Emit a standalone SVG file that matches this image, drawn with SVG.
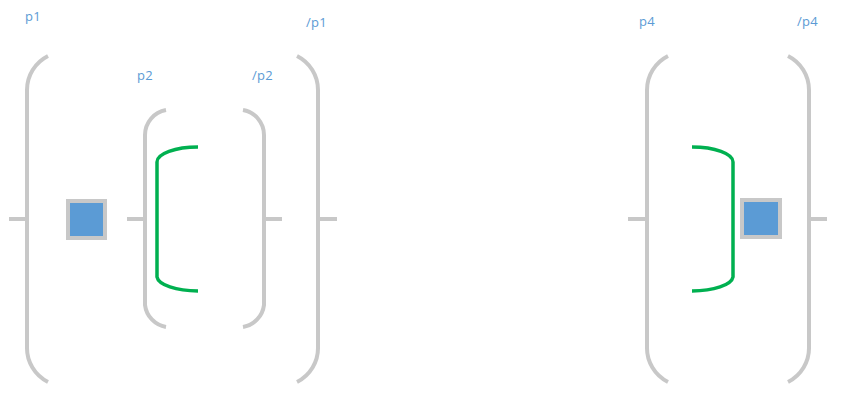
<svg xmlns="http://www.w3.org/2000/svg" width="842" height="406" viewBox="0 0 842 406">
<style>
.br{fill:none;stroke:#c8c8c8;stroke-width:4;stroke-linecap:butt}
.gr{fill:none;stroke:#00b050;stroke-width:3.5}
.bx{fill:#5b9bd5;stroke:#c8c8c8;stroke-width:4}
.lb{font-family:"Open Sans","Liberation Sans",sans-serif;font-size:13px;fill:#5b9bd5;letter-spacing:0.3px}
</style>
<rect width="842" height="406" fill="#ffffff"/>
<g id="connectors">
<line class="br" x1="9" y1="219" x2="27" y2="219"/>
<line class="br" x1="127" y1="219" x2="145" y2="219"/>
<line class="br" x1="264" y1="219" x2="282" y2="219"/>
<line class="br" x1="318" y1="219" x2="337" y2="219"/>
<line class="br" x1="628" y1="219" x2="647" y2="219"/>
<line class="br" x1="809" y1="219" x2="827" y2="219"/>
</g>
<g id="p1">
<text class="lb" x="25" y="21">p1</text>
<path class="br" d="M48,56 A38,38 0 0 0 27,90 V347 A38,38 0 0 0 48,382"/>
</g>
<g id="p1-end">
<text class="lb" x="306" y="27">/p1</text>
<path class="br" d="M297,56 A38,38 0 0 1 318,90 V347 A38,38 0 0 1 297,382"/>
</g>
<g id="box1">
<rect class="bx" x="68" y="201" width="37" height="37"/>
</g>
<g id="p2">
<text class="lb" x="137" y="80">p2</text>
<path class="br" d="M166,110 A25.4,25.4 0 0 0 145,135 V305 A25.4,25.4 0 0 0 166,327"/>
</g>
<g id="p2-end">
<text class="lb" x="252" y="80">/p2</text>
<path class="br" d="M243,110 A25.4,25.4 0 0 1 264,135 V305 A25.4,25.4 0 0 1 243,327"/>
</g>
<g id="green1">
<path class="gr" d="M198,147 A41,15 0 0 0 157,162 V277 A41,15 0 0 0 198,291"/>
</g>
<g id="p4">
<text class="lb" x="639" y="26">p4</text>
<path class="br" d="M668,56 A38,38 0 0 0 647,90 V347 A38,38 0 0 0 668,382"/>
</g>
<g id="p4-end">
<text class="lb" x="797" y="26">/p4</text>
<path class="br" d="M788,56 A38,38 0 0 1 809,90 V347 A38,38 0 0 1 788,382"/>
</g>
<g id="green2">
<path class="gr" d="M692,147 A41,15 0 0 1 733,162 V277 A41,15 0 0 1 692,291"/>
</g>
<g id="box2">
<rect class="bx" x="742" y="200" width="38" height="37"/>
</g>
</svg>
